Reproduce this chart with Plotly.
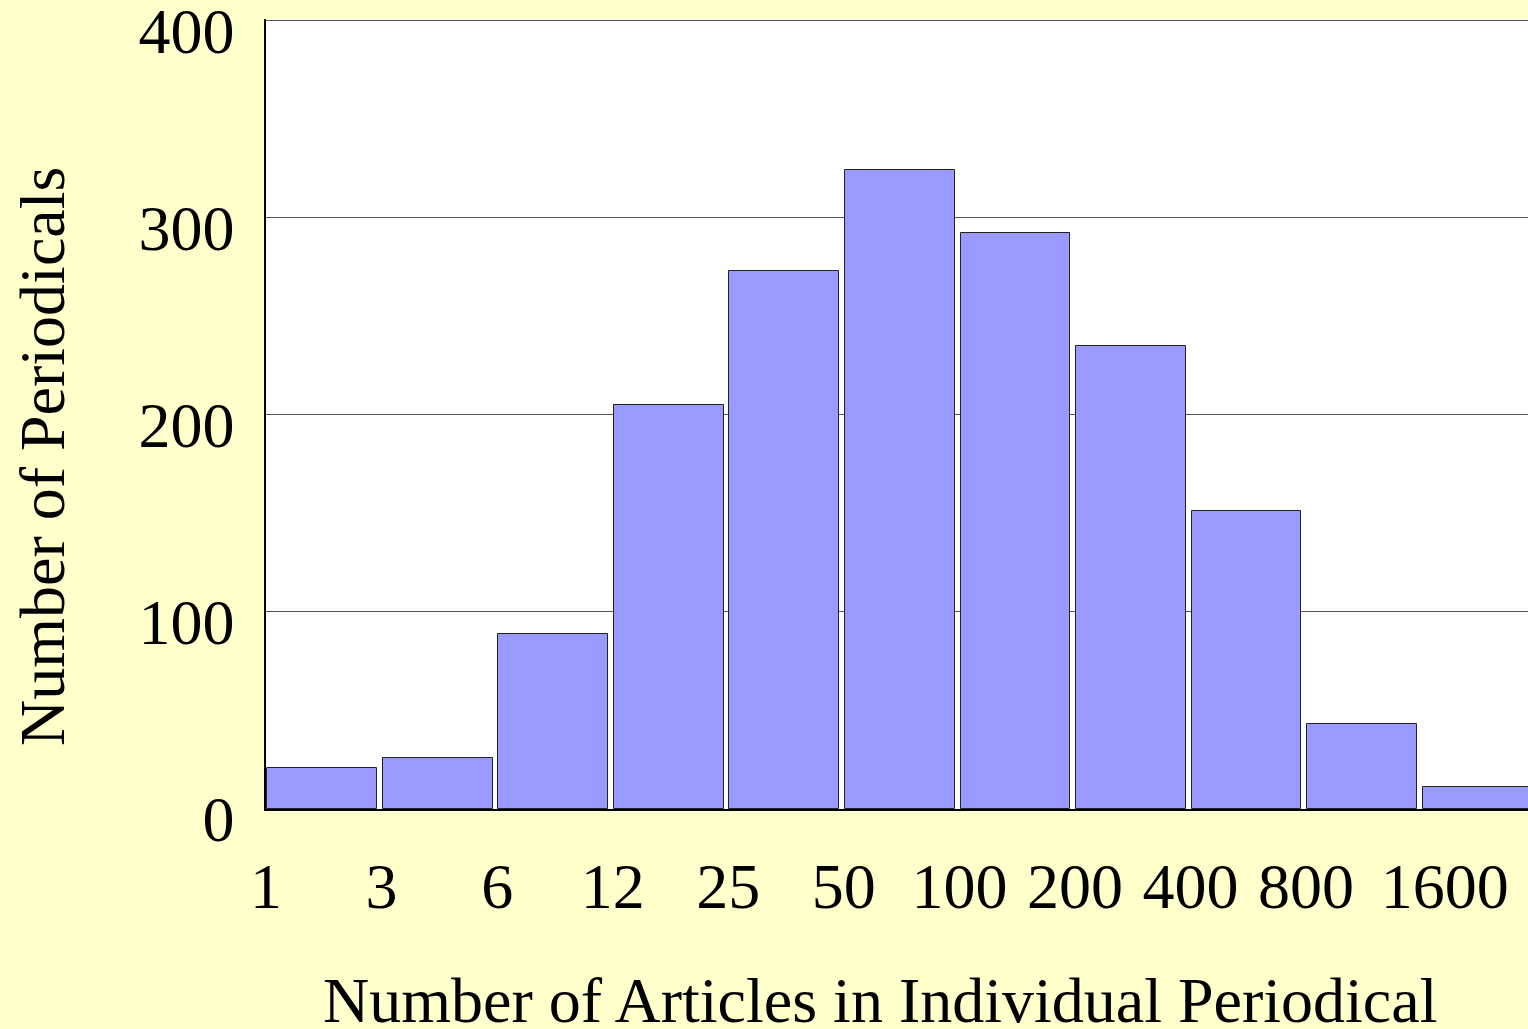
import plotly.graph_objects as go

bin_edges = ["1", "3", "6", "12", "25", "50", "100", "200", "400", "800", "1600"]
periodicals = [21, 26, 89, 205, 273, 324, 292, 235, 151, 43, 11]
y_ticks = [0, 100, 200, 300, 400]
x_title = "Number of Articles in Individual Periodical"
y_title = "Number of Periodicals"

x_pos = [i + 0.485 for i in range(len(periodicals))]
tick_pos = [0, 1, 2, 3, 4, 5, 6, 7, 8, 9, 10.2]

font_family = "Liberation Serif, Times New Roman, serif"
FS = 64

fig = go.Figure()
fig.add_trace(go.Bar(
    x=x_pos,
    y=periodicals,
    width=0.95,
    marker=dict(color="#9999FF", line=dict(color="#222222", width=1)),
    showlegend=False,
    hoverinfo="skip",
))

fig.update_layout(
    width=1528,
    height=1029,
    paper_bgcolor="#FFFFCC",
    plot_bgcolor="#FFFFFF",
    margin=dict(l=266, r=0, t=19, b=220, autoexpand=False),
    font=dict(family=font_family, size=FS, color="#000000"),
    bargap=0,
)

fig.update_xaxes(
    automargin=False,
    range=[0, 10.92],
    tickmode="array",
    tickvals=tick_pos,
    ticktext=bin_edges,
    ticks="",
    showgrid=False,
    showline=True,
    linecolor="#000000",
    linewidth=1.5,
    zeroline=False,
    ticklabelstandoff=20,
    ticklabeloverflow="allow",
    tickfont=dict(size=FS),
)

fig.update_yaxes(
    automargin=False,
    range=[0, 400.8],
    tickmode="array",
    tickvals=y_ticks,
    ticktext=[str(v) for v in y_ticks],
    ticks="",
    showgrid=True,
    gridcolor="#555555",
    gridwidth=1,
    showline=True,
    linecolor="#000000",
    linewidth=1.5,
    zeroline=False,
    ticklabelstandoff=17,
    ticklabelshift=10,
    ticklabeloverflow="allow",
    tickfont=dict(size=FS),
)

fig.add_annotation(
    text=x_title, xref="paper", yref="paper",
    x=0.4865, y=-0.2418, xanchor="center", yanchor="middle",
    showarrow=False, font=dict(size=FS),
)
fig.add_annotation(
    text=y_title, xref="paper", yref="paper",
    x=-0.1775, y=0.4468, xanchor="center", yanchor="middle",
    textangle=-90, showarrow=False, font=dict(size=FS),
)

fig.write_html(
    "out.html",
    config={"displayModeBar": False},
    post_script="document.body.style.margin='0';",
)
